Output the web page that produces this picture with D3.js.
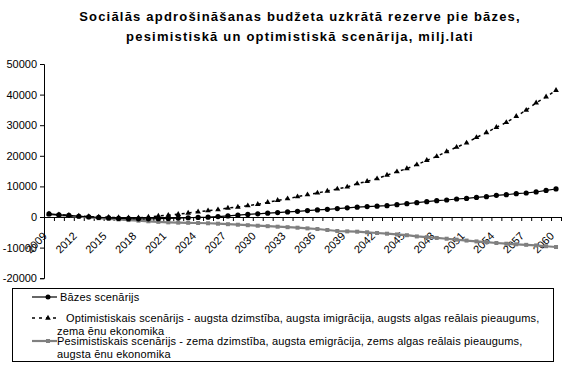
<!DOCTYPE html>
<html>
<head>
<meta charset="utf-8">
<script src="https://cdn.jsdelivr.net/npm/d3@7"></script>
<style>
  body { margin: 0; background: #fff; }
  svg { font-family: Arial, "Liberation Sans", sans-serif; }
</style>
</head>
<body>
<div id="chart"></div>
<script>
// years 2009..2060
var years = d3.range(2009, 2061);

var baseVals = [1000, 700, 500, 250, 50, -150, -300, -450, -550, -600,
  -600, -550, -450, -350, -250, -150, -50, 150, 350, 600,
  850, 1050, 1250, 1450, 1650, 1850, 2100, 2300, 2500, 2750,
  3000, 3200, 3400, 3550, 3700, 4020, 4350, 4680, 5000, 5330,
  5560, 5890, 6080, 6410, 6640, 7070, 7300, 7620, 7850, 8180,
  8700, 9160];

var optVals = [1000, 750, 550, 300, 150, 0, -100, -200, -250, -250,
  0, 300, 600, 900, 1300, 1700, 2060, 2390, 2940, 3270,
  3700, 4120, 4780, 5430, 5990, 6640, 7300, 7850, 8500, 9160,
  9810, 10890, 11650, 12530, 13700, 14800, 15800, 17100, 18500, 19800,
  21400, 22800, 24200, 26000, 27600, 29300, 30900, 32900, 34900, 37300,
  39250, 41400];

var pesVals = [900, 600, 350, 100, -150, -400, -600, -800, -1000, -1200,
  -1400, -1600, -1750, -1850, -1900, -1960, -2050, -2190, -2350, -2520,
  -2680, -2850, -3000, -3170, -3330, -3500, -3720, -3930, -4250, -4580,
  -4700, -4800, -5000, -5230, -5460, -5700, -5950, -6350, -6600, -6850,
  -7100, -7400, -7700, -7980, -8230, -8500, -8730, -8920, -9100, -9290,
  -9550, -9810];

var yTicks = [-20000, -10000, 0, 10000, 20000, 30000, 40000, 50000];
var labelYears = years.filter(function(d) { return (d - 2009) % 3 === 0; });

var titleLines = ["Sociālās apdrošināšanas budžeta uzkrātā rezerve pie bāzes,",
  "pesimistiskā un optimistiskā scenārija, milj.lati"];
var legendNames = [
  ["Bāzes scenārijs"],
  ["Optimistiskais scenārijs - augsta dzimstība, augsta imigrācija, augsts algas reālais pieaugums,", "zema ēnu ekonomika"],
  ["Pesimistiskais scenārijs - zema dzimstība, augsta emigrācija, zems algas reālais pieaugums,", "augsta ēnu ekonomika"]
];

var W = 566, H = 368;
var margin = {left: 44, right: 561, top: 64, bottom: 278.2};

var svg = d3.select("#chart").append("svg")
    .attr("width", W)
    .attr("height", H);

var x = d3.scaleBand().domain(years).range([margin.left, margin.right]);
var xIdx = d3.scaleLinear().domain([0, years.length]).range([margin.left, margin.right]);
var y = d3.scaleLinear().domain([-20000, 50000]).range([margin.bottom, margin.top]);

// title
svg.append("g").selectAll("text")
    .data(titleLines)
  .enter().append("text")
    .attr("x", 300)
    .attr("y", function(d, i) { return 21 + i * 20; })
    .attr("text-anchor", "middle")
    .style("font-size", "13px")
    .style("font-weight", "bold")
    .style("letter-spacing", "1.2px")
    .text(function(d) { return d; });

// y axis
var yAxis = svg.append("g")
    .attr("transform", "translate(" + margin.left + ",0)")
    .call(d3.axisLeft(y).tickValues(yTicks).tickSize(4).tickPadding(3)
      .tickFormat(function(d) { return String(d); }));
yAxis.selectAll("text").style("font-size", "11px").attr("fill", "#000");

// x axis: ticks between categories
var x0 = y(0);
svg.append("g")
    .attr("transform", "translate(0," + x0 + ")")
    .call(d3.axisBottom(xIdx).tickValues(d3.range(0, years.length + 1)).tickSize(4)
      .tickFormat(""));

var xLab = svg.append("g")
    .attr("transform", "translate(0," + x0 + ")")
    .call(d3.axisBottom(x).tickValues(labelYears).tickSize(0).tickPadding(0));
xLab.select(".domain").remove();
xLab.selectAll("text")
    .style("font-size", "11px")
    .attr("fill", "#000")
    .attr("text-anchor", "end")
    .attr("y", 0)
    .attr("dy", "0.35em")
    .attr("transform", "translate(-4,17) rotate(-45)");

function cx(d, i) { return x(years[i]) + x.bandwidth() / 2; }

var line = d3.line()
    .x(function(d, i) { return cx(d, i); })
    .y(function(d) { return y(d); });

// pessimistic (grey)
svg.append("path").datum(pesVals)
    .attr("d", line)
    .attr("fill", "none")
    .attr("stroke", "#808080")
    .attr("stroke-width", 2.2);
svg.append("g").selectAll("rect")
    .data(pesVals)
  .enter().append("rect")
    .attr("x", function(d, i) { return cx(d, i) - 2; })
    .attr("y", function(d) { return y(d) - 2; })
    .attr("width", 4).attr("height", 4)
    .attr("fill", "#808080");

// base
svg.append("path").datum(baseVals)
    .attr("d", line)
    .attr("fill", "none")
    .attr("stroke", "#000")
    .attr("stroke-width", 1.2);
svg.append("g").selectAll("circle")
    .data(baseVals)
  .enter().append("circle")
    .attr("cx", cx)
    .attr("cy", function(d) { return y(d); })
    .attr("r", 2.6)
    .attr("fill", "#000");

// optimistic
var tri = d3.symbol().type(d3.symbolTriangle).size(14);
svg.append("path").datum(optVals)
    .attr("d", line)
    .attr("fill", "none")
    .attr("stroke", "#000")
    .attr("stroke-width", 1.5)
    .attr("stroke-dasharray", "3,4");
svg.append("g").selectAll("path")
    .data(optVals)
  .enter().append("path")
    .attr("d", tri)
    .attr("transform", function(d, i) { return "translate(" + cx(d, i) + "," + y(d) + ")"; })
    .attr("fill", "#000");

// legend
var lg = svg.append("g");
lg.append("rect")
    .attr("x", 12.5).attr("y", 288.5)
    .attr("width", 541).attr("height", 73)
    .attr("fill", "none").attr("stroke", "#000");

var legRows = [297, 318, 341];
var legStyle = [
  {stroke: "#000", w: 1.2, dash: null, tx: 60},
  {stroke: "#000", w: 1.5, dash: "3,4", tx: 66},
  {stroke: "#808080", w: 2.2, dash: null, tx: 57}
];
legendNames.forEach(function(lines, k) {
  var st = legStyle[k], yy = legRows[k];
  lg.append("line")
    .attr("x1", 32).attr("x2", 57).attr("y1", yy).attr("y2", yy)
    .attr("stroke", st.stroke).attr("stroke-width", st.w)
    .attr("stroke-dasharray", st.dash);
  if (k === 0) lg.append("circle").attr("cx", 48).attr("cy", yy).attr("r", 2.5).attr("fill", "#000");
  if (k === 1) lg.append("path").attr("d", tri).attr("transform", "translate(48," + yy + ")").attr("fill", "#000");
  if (k === 2) lg.append("rect").attr("x", 46).attr("y", yy - 2).attr("width", 4).attr("height", 4).attr("fill", "#808080");
  lines.forEach(function(t, j) {
    lg.append("text")
      .attr("x", j === 0 ? st.tx : 57)
      .attr("y", yy + j * 13)
      .attr("dy", "0.35em")
      .style("font-size", "11px")
      .style("letter-spacing", "0.15px")
      .text(t);
  });
});
</script>
</body>
</html>
